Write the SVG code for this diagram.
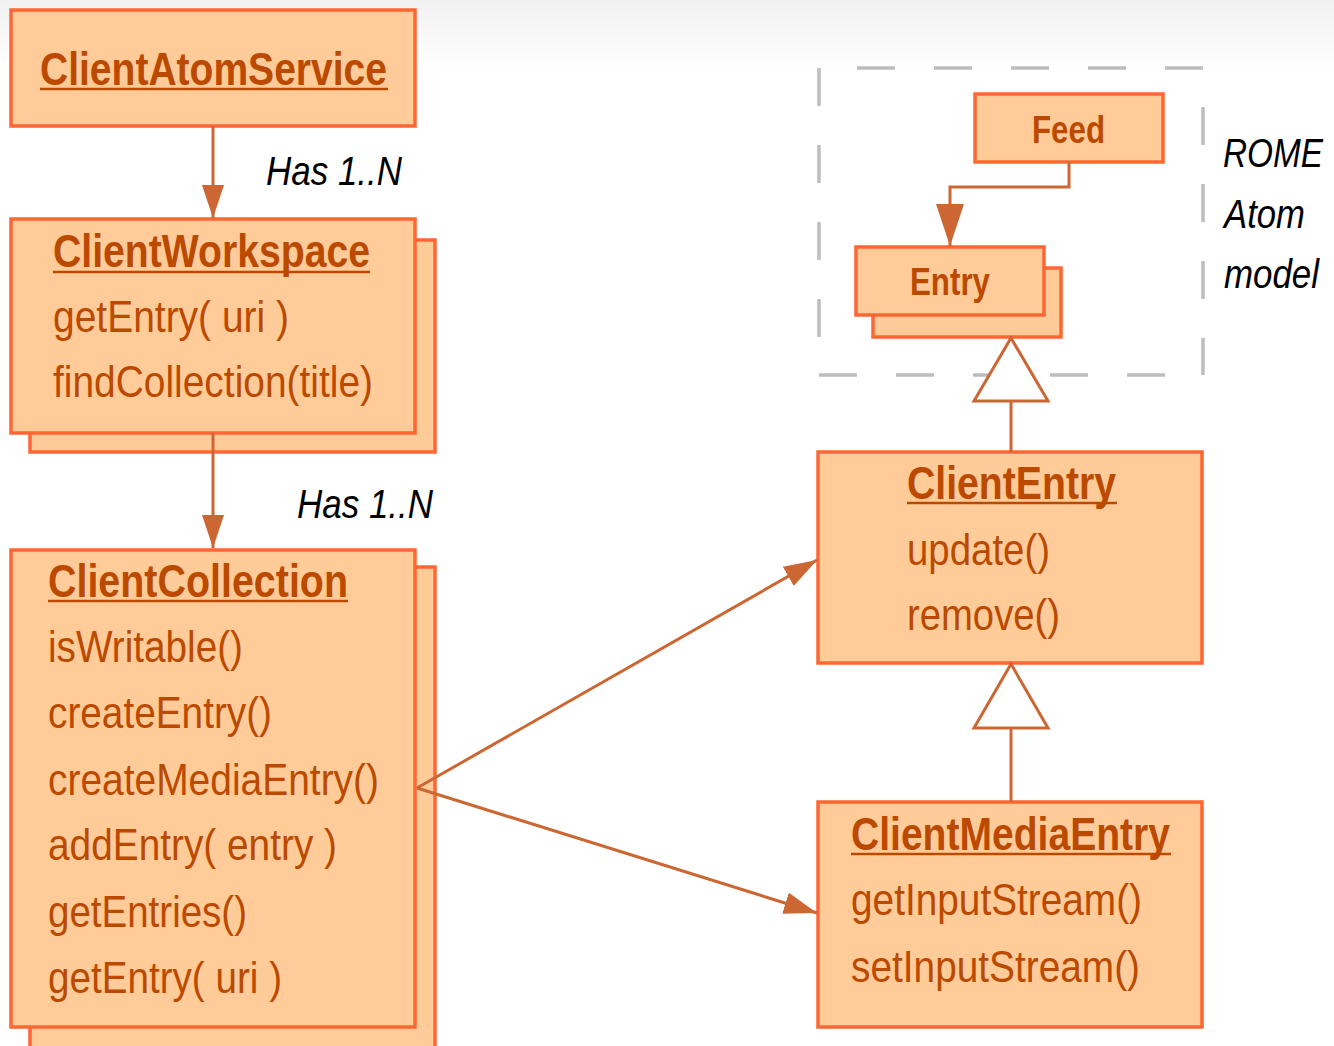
<svg xmlns="http://www.w3.org/2000/svg" width="1334" height="1046" viewBox="0 0 1334 1046">
<defs>
<linearGradient id="bg" x1="0" y1="0" x2="0" y2="1">
<stop offset="0" stop-color="#f1f1f1"/>
<stop offset="1" stop-color="#ffffff"/>
</linearGradient>
<marker id="arr" markerUnits="userSpaceOnUse" markerWidth="34" markerHeight="24" refX="33" refY="11" orient="auto">
<path d="M0,0 L33,11 L0,22 z" fill="#CC6633"/>
</marker>
<marker id="arrBig" markerUnits="userSpaceOnUse" markerWidth="44" markerHeight="30" refX="42" refY="14" orient="auto">
<path d="M0,0 L42,14 L0,28 z" fill="#CC6633"/>
</marker>
<style>
.box{fill:#FFCC99;stroke:#FF6633;stroke-width:3.5;}
.title{font-family:"Liberation Sans Narrow","Liberation Sans",Arial,sans-serif;font-weight:bold;font-size:46px;fill:#BB4A00;}
.small{font-family:"Liberation Sans Narrow","Liberation Sans",Arial,sans-serif;font-weight:bold;font-size:39px;fill:#BB4A00;}
.item{font-family:"Liberation Sans Narrow","Liberation Sans",Arial,sans-serif;font-size:44px;fill:#BB4A00;}
.ul{stroke:#BB4A00;stroke-width:2.5;}
.lbl{font-family:"Liberation Sans","Arial",sans-serif;font-style:italic;font-size:40px;fill:#000;}
.conn{stroke:#CC6633;stroke-width:3;fill:none;}
.gen{stroke:#CC6633;stroke-width:3;fill:#fff;}
.dash{stroke:#BDBDBD;stroke-width:3.5;stroke-dasharray:38 39;fill:none;}
</style>
</defs>
<rect x="0" y="0" width="1334" height="1046" fill="#fff"/>
<rect x="0" y="0" width="1334" height="70" fill="url(#bg)"/>

<g id="rome-boundary">
<line class="dash" x1="819" y1="68" x2="1203" y2="68" stroke-dashoffset="39"/>
<line class="dash" x1="819" y1="68" x2="819" y2="375"/>
<line class="dash" x1="1203" y1="68" x2="1203" y2="375" stroke-dashoffset="38"/>
<line class="dash" x1="819" y1="375" x2="1203" y2="375"/>
</g>

<g id="ClientAtomService">
<rect class="box" x="11" y="10" width="404" height="116"/>
<text class="title" x="40" y="85" textLength="347" lengthAdjust="spacingAndGlyphs">ClientAtomService</text>
<line class="ul" x1="40" y1="89" x2="388" y2="89"/>
</g>

<g id="ClientWorkspace">
<rect class="box" x="30" y="240" width="405" height="212"/>
<rect class="box" x="11" y="219" width="404" height="214"/>
<text class="title" x="53" y="267" textLength="317" lengthAdjust="spacingAndGlyphs">ClientWorkspace</text>
<line class="ul" x1="53" y1="272" x2="370" y2="272"/>
<text class="item" x="53" y="332" textLength="236" lengthAdjust="spacingAndGlyphs">getEntry( uri )</text>
<text class="item" x="53" y="397" textLength="320" lengthAdjust="spacingAndGlyphs">findCollection(title)</text>
</g>

<g id="ClientCollection">
<rect class="box" x="30" y="567" width="405" height="490"/>
<rect class="box" x="11" y="550" width="404" height="477"/>
<text class="title" x="48" y="597" textLength="300" lengthAdjust="spacingAndGlyphs">ClientCollection</text>
<line class="ul" x1="48" y1="601" x2="348" y2="601"/>
<text class="item" x="48" y="662" textLength="195" lengthAdjust="spacingAndGlyphs">isWritable()</text>
<text class="item" x="48" y="728" textLength="224" lengthAdjust="spacingAndGlyphs">createEntry()</text>
<text class="item" x="48" y="795" textLength="331" lengthAdjust="spacingAndGlyphs">createMediaEntry()</text>
<text class="item" x="48" y="860" textLength="289" lengthAdjust="spacingAndGlyphs">addEntry( entry )</text>
<text class="item" x="48" y="927" textLength="199" lengthAdjust="spacingAndGlyphs">getEntries()</text>
<text class="item" x="48" y="993" textLength="234" lengthAdjust="spacingAndGlyphs">getEntry( uri )</text>
</g>

<g id="Feed">
<rect class="box" x="975" y="94" width="188" height="68"/>
<text class="small" x="1032" y="143" textLength="73" lengthAdjust="spacingAndGlyphs">Feed</text>
</g>

<g id="Entry">
<rect class="box" x="873" y="268" width="188" height="69"/>
<rect class="box" x="856" y="247" width="188" height="68"/>
<text class="small" x="910" y="295" textLength="80" lengthAdjust="spacingAndGlyphs">Entry</text>
</g>

<g id="ClientEntry">
<rect class="box" x="818" y="452" width="384" height="211"/>
<text class="title" x="907" y="499" textLength="209" lengthAdjust="spacingAndGlyphs">ClientEntry</text>
<line class="ul" x1="907" y1="503" x2="1117" y2="503"/>
<text class="item" x="907" y="565" textLength="143" lengthAdjust="spacingAndGlyphs">update()</text>
<text class="item" x="907" y="630" textLength="153" lengthAdjust="spacingAndGlyphs">remove()</text>
</g>

<g id="ClientMediaEntry">
<rect class="box" x="818" y="802" width="384" height="225"/>
<text class="title" x="851" y="850" textLength="319" lengthAdjust="spacingAndGlyphs">ClientMediaEntry</text>
<line class="ul" x1="851" y1="854" x2="1171" y2="854"/>
<text class="item" x="851" y="915" textLength="291" lengthAdjust="spacingAndGlyphs">getInputStream()</text>
<text class="item" x="851" y="982" textLength="289" lengthAdjust="spacingAndGlyphs">setInputStream()</text>
</g>

<g id="connectors">
<line class="conn" x1="213" y1="126" x2="213" y2="218" marker-end="url(#arr)"/>
<line class="conn" x1="213" y1="433" x2="213" y2="548" marker-end="url(#arr)"/>
<line class="conn" x1="417" y1="788" x2="817" y2="560" marker-end="url(#arr)"/>
<line class="conn" x1="417" y1="788" x2="817" y2="913" marker-end="url(#arr)"/>
<polyline class="conn" points="1069,162 1069,187 950,187 950,246" marker-end="url(#arrBig)"/>
<line class="conn" x1="1011" y1="401" x2="1011" y2="452"/>
<polygon class="gen" points="1011,338 1048,401 974,401"/>
<line class="conn" x1="1011" y1="728" x2="1011" y2="802"/>
<polygon class="gen" points="1011,664 1048,728 974,728"/>
</g>

<g id="labels">
<text class="lbl" x="266" y="185" textLength="136" lengthAdjust="spacingAndGlyphs">Has 1..N</text>
<text class="lbl" x="297" y="518" textLength="136" lengthAdjust="spacingAndGlyphs">Has 1..N</text>
<text class="lbl" x="1223" y="167" font-size="37" textLength="100" lengthAdjust="spacingAndGlyphs">ROME</text>
<text class="lbl" x="1224" y="228" textLength="81" lengthAdjust="spacingAndGlyphs">Atom</text>
<text class="lbl" x="1224" y="288" textLength="95" lengthAdjust="spacingAndGlyphs">model</text>
</g>
</svg>
